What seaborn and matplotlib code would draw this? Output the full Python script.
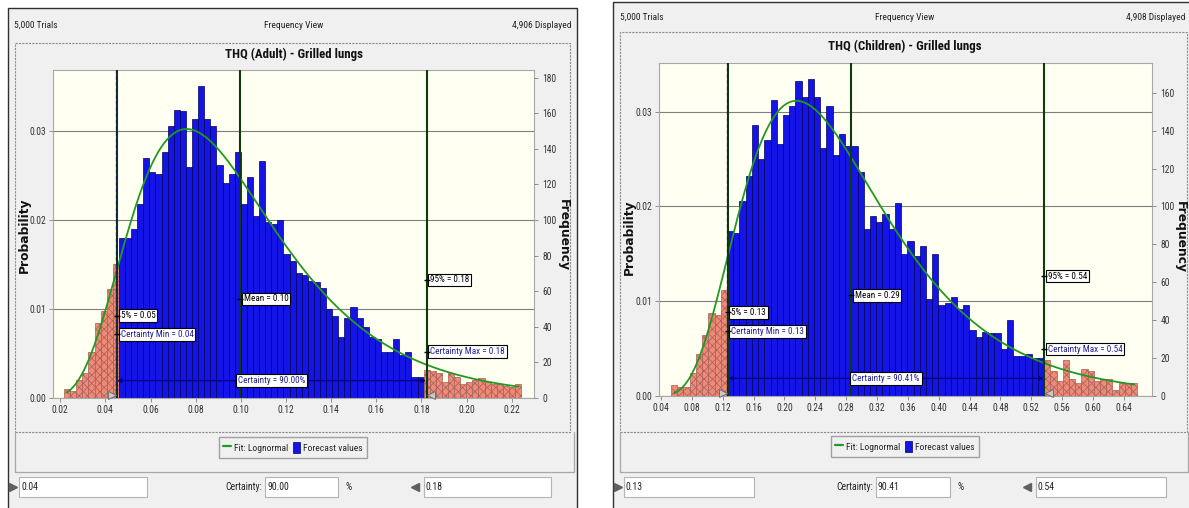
import numpy as np
import pandas as pd
import matplotlib.pyplot as plt
import matplotlib.transforms as mtrans
from matplotlib.patches import Rectangle, Patch
from matplotlib.lines import Line2D
import seaborn as sns

sns.set_style('white')
plt.rcParams['font.family'] = ['Liberation Sans Narrow', 'Roboto Condensed', 'Liberation Sans', 'DejaVu Sans']
plt.rcParams['hatch.linewidth'] = 0.5

W, H = 1189, 508
trials = 5000

# ---- Adult: counts per bin
adult_title = 'THQ (Adult) - Grilled lungs'
adult_displayed = '4,906 Displayed'
adult_bin_start = 0.0217
adult_bin_width = 0.0027
adult_counts = [5, 4, 10, 14, 26, 42, 49, 61, 75,
                90, 90, 95, 109, 135, 127, 126, 138, 153, 162, 161, 130, 157, 175, 157,
                153, 131, 121, 126, 138, 109, 124, 102, 133, 99, 98, 100,
                81, 77, 70, 69, 66, 65, 62, 50, 46, 34, 45, 51, 45, 40, 34, 33, 26, 26,
                33, 24, 26, 12, 12,
                16, 15, 14, 9, 14, 12, 8, 9, 10, 11, 9, 8, 8, 7, 6, 8]
adult_tails = (9, 16)
adult_p5, adult_mean, adult_p95 = 0.0452, 0.0997, 0.1824
adult_cert_min, adult_cert_max = 0.0446, 0.1826
adult_fit = (-2.394, 0.428)  # lognormal mu, sigma
adult_labels = ['5% = 0.05', 'Mean = 0.10', '95% = 0.18',
                'Certainty Min = 0.04', 'Certainty Max = 0.18', 'Certainty = 90.00%']
adult_inputs = ['0.04', '90.00', '0.18']
adult_xticks = [0.02, 0.04, 0.06, 0.08, 0.10, 0.12, 0.14, 0.16, 0.18, 0.20, 0.22]
adult_freq_ticks = [0, 20, 40, 60, 80, 100, 120, 140, 160, 180]
adult_prob_ticks = [0.00, 0.01, 0.02, 0.03]

# ---- Children
child_title = 'THQ (Children) - Grilled lungs'
child_displayed = '4,908 Displayed'
child_bin_start = 0.053
child_bin_width = 0.00806
child_counts = [6, 5, 5, 12, 22, 32, 44, 43, 56,
                87, 86, 103, 116, 143, 125, 135, 156, 133, 148, 153, 166, 158, 167, 158,
                131, 153, 127, 138, 132, 132, 118, 88, 95, 92, 96, 88, 102,
                75, 82, 74, 79, 51, 75, 48, 49, 52, 46, 48, 35, 31, 34, 33, 33, 25, 40,
                21, 21, 22, 20, 20,
                19, 13, 8, 19, 9, 7, 14, 13, 8, 9, 9, 3, 7, 7, 7]
child_tails = (9, 15)
child_p5, child_mean, child_p95 = 0.1265, 0.2865, 0.5368
child_cert_min, child_cert_max = 0.1258, 0.5375
child_fit = (-1.3448, 0.4355)
child_labels = ['5% = 0.13', 'Mean = 0.29', '95% = 0.54',
                'Certainty Min = 0.13', 'Certainty Max = 0.54', 'Certainty = 90.41%']
child_inputs = ['0.13', '90.41', '0.54']
child_xticks = [0.04, 0.08, 0.12, 0.16, 0.20, 0.24, 0.28, 0.32, 0.36, 0.40, 0.44,
                0.48, 0.52, 0.56, 0.60, 0.64]
child_freq_ticks = [0, 20, 40, 60, 80, 100, 120, 140, 160]
child_prob_ticks = [0.00, 0.01, 0.02, 0.03]

BLUE = '#1414E6'
PINK = '#EE8A76'
GREEN = '#229922'
DKGREEN = '#0D3B0D'
NAVY = '#1E1E9A'
BG = '#F0F0F0'
BOLD_FAMILY = ['DejaVu Sans']

fig = plt.figure(figsize=(W / 100, H / 100), dpi=100)
fig.patch.set_facecolor('white')


def P(x, y):
    return x / W, 1 - y / H


def rect(x0, y0, x1, y1, **kw):
    r = Rectangle(P(x0, y1), (x1 - x0) / W, (y1 - y0) / H, transform=fig.transFigure, **kw)
    fig.add_artist(r)
    return r


def hline(x0, x1, y, **kw):
    fig.add_artist(Line2D([x0 / W, x1 / W], [1 - y / H, 1 - y / H], transform=fig.transFigure, **kw))


def vline(x, y0, y1, **kw):
    fig.add_artist(Line2D([x / W, x / W], [1 - y0 / H, 1 - y1 / H], transform=fig.transFigure, **kw))


def draw_panel(L, title, displayed, bin_start, bin_width, counts, tails, p5, mean, p95,
               cmin, cmax, fit, labels, inputs, xticks, freq_ticks, prob_ticks, xlim, ytop):
    # window frame and boxes
    rect(*L['frame'], fc=BG, ec='#303030', lw=1.0, zorder=-10)
    cb = L['chart']
    rect(*cb, fc=BG, ec='#8C8C8C', lw=0.8, ls=(0, (2, 1)), zorder=-9)
    hline(cb[0], L['bottom_r'], L['bottom_y'], color='#A8A8A8', lw=0.9, zorder=-8)
    vline(cb[0], cb[3], L['bottom_y'], color='#A8A8A8', lw=0.9, zorder=-8)
    vline(L['bottom_r'], cb[3], L['bottom_y'], color='#A8A8A8', lw=0.9, zorder=-8)

    hy = L['header_y']
    fig.text(*P(L['header_l'], hy), '5,000 Trials', fontsize=6.8, va='center', ha='left', color='#222222')
    fig.text(*P(L['center'], hy), 'Frequency View', fontsize=6.8, va='center', ha='center', color='#222222')
    fig.text(*P(L['header_r'], hy), displayed, fontsize=6.8, va='center', ha='right', color='#222222')
    fig.text(*P(L['center'], L['title_y']), title, fontsize=9.3, fontweight='bold',
             va='center', ha='center', color='#111111')

    px0, py0, px1, py1 = L['plot']
    ax = fig.add_axes([px0 / W, 1 - py1 / H, (px1 - px0) / W, (py1 - py0) / H])
    ax.set_facecolor('#FFFFF2')

    counts = np.asarray(counts, dtype=float)
    n = len(counts)
    edges = bin_start + bin_width * np.arange(n + 1)
    df = pd.DataFrame({'x': edges[:-1] + bin_width / 2, 'p': counts / trials})
    lo, hi = tails[0], n - tails[1]
    segs = [(0, lo, PINK, '#A8605A', 'xxxx'), (lo, hi, BLUE, '#00005A', None),
            (hi, n, PINK, '#A8605A', 'xxxx')]
    for a, b, fc, ec, hatch in segs:
        sns.histplot(data=df.iloc[a:b], x='x', weights='p', bins=list(edges[a:b + 1]), ax=ax,
                     color=fc, edgecolor=ec, linewidth=0.5, alpha=1, hatch=hatch,
                     legend=False, zorder=2)

    mu, sig = fit
    xs = np.linspace(df['x'].iloc[0], df['x'].iloc[-1], 300)
    pdf = np.exp(-(np.log(xs) - mu) ** 2 / (2 * sig ** 2)) / (xs * sig * np.sqrt(2 * np.pi))
    sns.lineplot(x=xs, y=pdf * bin_width, ax=ax, color=GREEN, lw=1.3, zorder=4)

    for v in (p5, mean, p95):
        ax.axvline(v, color=DKGREEN, lw=1.5, zorder=5)
    ax.axvline(cmin, color='#1A1A55', lw=0.9, ls=(0, (3, 2)), zorder=5)

    ax.set_xlim(*xlim)
    ax.set_ylim(0, ytop)
    ax.set_xlabel('')
    ax.set_ylabel('')
    ax.set_xticks(xticks)
    ax.set_xticklabels(['%.2f' % t for t in xticks])
    ax.set_yticks(prob_ticks)
    ax.set_yticklabels(['%.2f' % t for t in prob_ticks])
    ax.yaxis.grid(True, color='#7F7F7F', lw=0.8)
    ax.xaxis.grid(False)
    ax.set_axisbelow(True)
    ax.tick_params(axis='both', length=3, width=0.7, color='#8C8C8C', labelsize=6.9,
                   labelcolor='#333333', pad=2, left=True, bottom=True)
    for s in ax.spines.values():
        s.set_color('#A8A8A8')
        s.set_linewidth(0.8)

    ax2 = ax.twinx()
    ax2.set_ylim(0, ytop * trials)
    ax2.set_yticks(freq_ticks)
    ax2.set_yticklabels([str(t) for t in freq_ticks])
    ax2.tick_params(axis='y', length=3, width=0.7, color='#8C8C8C', labelsize=6.9,
                    labelcolor='#333333', pad=3, right=True)
    ax2.grid(False)
    for s in ax2.spines.values():
        s.set_visible(False)

    # annotation boxes
    blend = mtrans.blended_transform_factory(ax.transData, ax.transAxes)
    box = dict(boxstyle='square,pad=0.2', fc='white', ec='black', lw=0.8)
    items = [(p5, 0.251, labels[0], 'black'), (mean, 0.302, labels[1], 'black'),
             (p95, 0.360, labels[2], 'black'), (p5, 0.194, labels[3], NAVY),
             (p95, 0.141, labels[4], NAVY)]
    for xv, yf, s, col in items:
        ax.annotate(s, xy=(xv, yf), xycoords=blend, xytext=(2.5, 0), textcoords='offset points',
                    fontsize=6.6, color=col, va='center', ha='left', bbox=box, zorder=7)
        ax.plot([xv], [yf], transform=blend, marker='_', ms=4, mew=1, color='black', zorder=8)

    ax.annotate('', xy=(cmax, 0.053), xycoords=blend, xytext=(cmin, 0.053), textcoords=blend,
                arrowprops=dict(arrowstyle='<|-|>', color='#00007A', lw=0.9,
                                mutation_scale=6, shrinkA=1, shrinkB=1), zorder=6)
    ax.text((cmin + cmax) / 2, 0.053, labels[5], transform=blend, fontsize=6.6, color=NAVY,
            ha='center', va='center', bbox=box, zorder=7)

    # grabbers
    lt = mtrans.offset_copy(ax.transData, fig=fig, x=-3, y=0, units='points')
    rt = mtrans.offset_copy(ax.transData, fig=fig, x=3, y=0, units='points')
    ax.plot([cmin], [0.0003], transform=lt, marker='>', ms=6, color='#C8C8C8',
            mec='#707070', mew=0.7, clip_on=False, zorder=9)
    ax.plot([cmax], [0.0003], transform=rt, marker='<', ms=6, color='#C8C8C8',
            mec='#707070', mew=0.7, clip_on=False, zorder=9)

    fig.text(*P(L['prob_x'], L['lab_y']), 'Probability', rotation=90, fontsize=8.8,
             fontweight='bold', family=BOLD_FAMILY, ha='center', va='center', color='#111111')
    fig.text(*P(L['freq_x'], L['lab_y']), 'Frequency', rotation=270, fontsize=8.8,
             fontweight='bold', family=BOLD_FAMILY, ha='center', va='center', color='#111111')

    # legend
    handles = [Line2D([0], [0], color=GREEN, lw=1.6),
               Patch(fc=BLUE, ec='#00005A', lw=0.5)]
    fig.legend(handles, ['Fit: Lognormal', 'Forecast values'], loc='center',
               bbox_to_anchor=P(*L['legend']), ncol=2, frameon=True, fancybox=False,
               edgecolor='#A0A0A0', facecolor=BG, framealpha=1, fontsize=6.8,
               handlelength=0.8, handleheight=1.5, handletextpad=0.3, columnspacing=0.5,
               borderpad=0.45)

    # certainty input boxes
    iy0, iy1 = 477, 497
    ym = (iy0 + iy1) / 2
    b1, b2, b3 = L['in1'], L['in2'], L['in3']
    for (x0, x1), s in zip((b1, b2, b3), inputs):
        rect(x0, iy0, x1, iy1, fc='white', ec='#B4B4B4', lw=0.8, zorder=1)
        fig.text(*P(x0 + 2, ym), s, fontsize=7, va='center', ha='left', color='#222222')
    fig.text(*P(b2[0] - 3, ym), 'Certainty:', fontsize=7, va='center', ha='right', color='#222222')
    fig.text(*P(b2[1] + 7, ym), '%', fontsize=7, va='center', ha='left', color='#222222')
    fig.add_artist(Line2D([(b1[0] - 6) / W], [1 - ym / H], transform=fig.transFigure,
                          marker='>', ms=6, color='#606060', mec='#606060'))
    fig.add_artist(Line2D([(b3[0] - 9) / W], [1 - ym / H], transform=fig.transFigure,
                          marker='<', ms=6, color='#606060', mec='#606060'))
    return ax


L1 = dict(frame=(8, 8, 577, 540), chart=(15, 43, 570, 432), bottom_y=472, bottom_r=574,
          header_y=25, header_l=14, header_r=571, center=294, title_y=54,
          plot=(53, 70, 534, 398), prob_x=24, freq_x=563, lab_y=235, legend=(293, 447.5),
          in1=(19, 147), in2=(265, 338), in3=(424, 551))
L2 = dict(frame=(613, 2, 1200, 540), chart=(620, 32, 1187, 432), bottom_y=472, bottom_r=1188,
          header_y=17, header_l=620, header_r=1185, center=905, title_y=46,
          plot=(659, 63, 1152, 396), prob_x=629, freq_x=1180, lab_y=237, legend=(905, 446.5),
          in1=(624, 754), in2=(876, 950), in3=(1036, 1166))

draw_panel(L1, adult_title, adult_displayed, adult_bin_start, adult_bin_width, adult_counts,
           adult_tails, adult_p5, adult_mean, adult_p95, adult_cert_min, adult_cert_max,
           adult_fit, adult_labels, adult_inputs, adult_xticks, adult_freq_ticks,
           adult_prob_ticks, (0.0168, 0.2299), 0.03685)
draw_panel(L2, child_title, child_displayed, child_bin_start, child_bin_width, child_counts,
           child_tails, child_p5, child_mean, child_p95, child_cert_min, child_cert_max,
           child_fit, child_labels, child_inputs, child_xticks, child_freq_ticks,
           child_prob_ticks, (0.0374, 0.6765), 0.03514)

fig.savefig('out.png', dpi=100)
